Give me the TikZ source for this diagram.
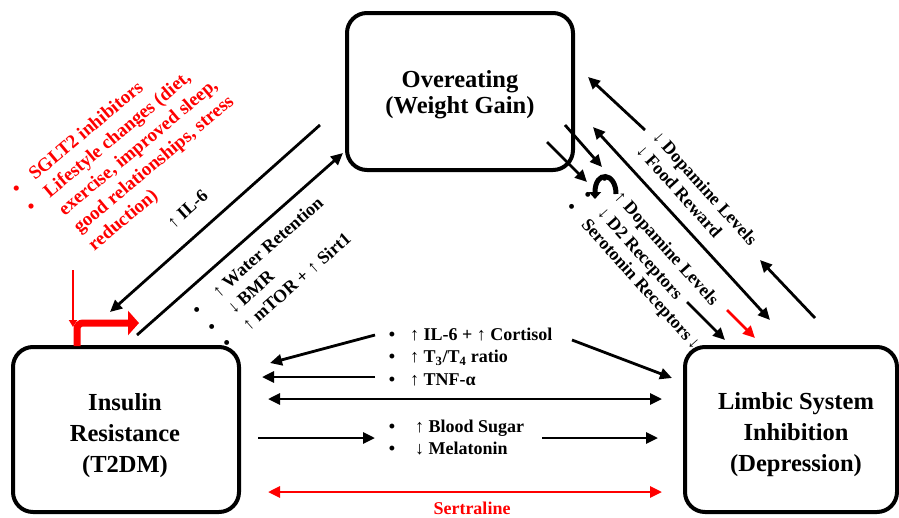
\documentclass[tikz,border=0pt]{standalone}
\usepackage{fontspec}
\setmainfont{Liberation Serif}
\usetikzlibrary{arrows.meta}
\definecolor{rd}{RGB}{255,0,0}
\newcommand\UpA{{\mdseries ↑}}
\newcommand\DnA{{\mdseries ↓}}
\begin{document}
\begin{tikzpicture}[x=1pt,y=-1pt,
 box/.style={draw,line width=4pt,rounded corners=20pt,inner sep=0pt,outer sep=0pt},
 btxt/.style={font=\bfseries\fontsize{24.5}{31}\selectfont,align=center,inner sep=0pt},
 lab/.style={font=\bfseries\fontsize{18}{22}\selectfont,inner sep=0pt,anchor=base west},
 rlab/.style={lab,text=rd,font=\bfseries\fontsize{19}{22}\selectfont},
 tip/.style={-{Triangle[length=12pt,width=11pt]}},
 arr/.style={line width=2.8pt,tip},
 darr/.style={line width=2.8pt,{Triangle[length=12pt,width=11pt]}-{Triangle[length=12pt,width=11pt]}},
]
\useasboundingbox (0,0) rectangle (899,517);

% boxes
\node[box,minimum width=226pt,minimum height=157pt] (over) at (460,91.5) {};
\node[btxt,font=\bfseries\fontsize{24.5}{26}\selectfont] (overT) at (460,95) {Overeating\\(Weight Gain)};
\node[box,minimum width=226pt,minimum height=165pt] (ins) at (126,429.5) {};
\node[btxt] (insT) at (125,435.5) {Insulin\\Resistance\\(T2DM)};
\node[box,minimum width=212pt,minimum height=165pt] (lim) at (791,429.5) {};
\node[btxt] (limT) at (796,434.5) {Limbic System\\Inhibition\\(Depression)};

% coordinates
\coordinate (a1s) at (320,125); \coordinate (a1e) at (110,312);
\coordinate (a2s) at (137,335); \coordinate (a2e) at (343,153);
\coordinate (r0s) at (73,270);  \coordinate (r0e) at (73,327);
\coordinate (r1s) at (77,346);  \coordinate (r1c) at (77,323); \coordinate (r1e) at (139,323);
\coordinate (b1s) at (645,130); \coordinate (b1e) at (588,77);
\coordinate (b2s) at (815,318); \coordinate (b2e) at (760,260);
\coordinate (b3s) at (593,127); \coordinate (b3e) at (770,320);
\coordinate (b4s) at (565,125); \coordinate (b4e) at (602,167);
\coordinate (b5s) at (547,142); \coordinate (b5e) at (587,182);
\coordinate (b6s) at (616,194); \coordinate (b6e) at (595,199);
\coordinate (b7s) at (687,302); \coordinate (b7e) at (725,340);
\coordinate (b8s) at (727,310); \coordinate (b8e) at (755,338);
\coordinate (c1s) at (375,335); \coordinate (c1e) at (270,363);
\coordinate (c2s) at (572,340); \coordinate (c2e) at (672,378);
\coordinate (c3s) at (375,377); \coordinate (c3e) at (262,377);
\coordinate (c4s) at (268,399); \coordinate (c4e) at (662,399);
\coordinate (c5s) at (258,438); \coordinate (c5e) at (375,438);
\coordinate (c6s) at (542,438); \coordinate (c6e) at (658,438);
\coordinate (c7s) at (268,492); \coordinate (c7e) at (662,492);

% left diagonals
\draw[arr] (a1s) -- (a1e);
\draw[arr] (a2s) -- (a2e);

% red intervention arrows
\draw[rd,line width=2pt,-{Triangle[length=7pt,width=8pt]}] (r0s) -- (r0e);
\draw[rd,line width=7pt,rounded corners=6pt,-{Triangle[length=11pt,width=24pt]}] (r1s) -- (r1c) -- (r1e);

% right diagonals
\draw[arr] (b1s) -- (b1e);
\draw[arr] (b2s) -- (b2e);
\draw[darr] (b3s) -- (b3e);
\draw[arr] (b4s) -- (b4e);
\draw[arr] (b5s) -- (b5e);
\draw[arr] (b7s) -- (b7e);
\draw[arr,rd] (b8s) -- (b8e);

% middle arrows
\draw[arr] (c1s) -- (c1e);
\draw[arr] (c2s) -- (c2e);
\draw[arr] (c3s) -- (c3e);
\draw[darr] (c4s) -- (c4e);
\draw[arr] (c5s) -- (c5e);
\draw[arr] (c6s) -- (c6e);
\draw[darr,rd] (c7s) -- (c7e);

% red list
\node[rlab,rotate=40] (rl1) at (35,181) {\llap{•\hspace{16pt}}SGLT2 inhibitors};
\node[rlab,rotate=40] (rl2) at (49.8,198.6) {\llap{•\hspace{16pt}}Lifestyle changes (diet,};
\node[rlab,rotate=40] (rl3) at (64.6,216.2) {exercise, improved sleep,};
\node[rlab,rotate=40] (rl4) at (79.4,233.8) {good relationships, stress};
\node[rlab,rotate=40] (rl5) at (94.2,251.4) {reduction)};

% left labels
\node[lab,rotate=41.7] (il6) at (173.5,229.5) {\UpA\ IL-6};
\node[lab,rotate=41.5] (w1) at (218.6,298.2) {\llap{•\hspace{21pt}}\UpA\ Water Retention};
\node[lab,rotate=41.5] (w2) at (233.6,315.1) {\llap{•\hspace{21pt}}\DnA\ BMR};
\node[lab,rotate=41.5] (w3) at (248.6,332) {\llap{•\hspace{21pt}}\UpA\ mTOR + \UpA\ Sirt1};

% right labels
\node[lab,rotate=-48] (d1) at (651.8,137.8) {\DnA\ Dopamine Levels};
\node[lab,rotate=-48] (d2) at (635.2,151.1) {\DnA\ Food Reward};
\node[lab,rotate=-48] (e1) at (613.5,197.8) {\llap{•\hspace{17pt}}\UpA\ Dopamine Levels};
\node[lab,rotate=-48] (e2) at (596.8,213.5) {\llap{•\hspace{17pt}}\DnA\ D2 Receptors};
\node[lab,rotate=-48] (e3) at (580.5,225.3) {\llap{•\hspace{17pt}}Serotonin Receptors\,\DnA};

% curved arrow (drawn over bullets)
\draw[line width=5pt,-{Triangle[length=7pt,width=12pt]}] (b6s) .. controls (616,172) and (595,170) .. (b6e);

% middle labels
\node[lab] (m1) at (410,340) {\llap{•\hspace{15pt}}\UpA\ IL-6 + \UpA\ Cortisol};
\node[lab] (m2) at (410,362.5) {\llap{•\hspace{15pt}}\UpA\ T\textsubscript{3}/T\textsubscript{4} ratio};
\node[lab] (m3) at (410,385) {\llap{•\hspace{15pt}}\UpA\ TNF-α};
\node[lab] (m4) at (415,432) {\llap{•\hspace{20pt}}\UpA\ Blood Sugar};
\node[lab] (m5) at (415,454) {\llap{•\hspace{20pt}}\DnA\ Melatonin};
\node[lab,text=rd,anchor=base] (sert) at (472,514) {Sertraline};
\end{tikzpicture}
\end{document}
